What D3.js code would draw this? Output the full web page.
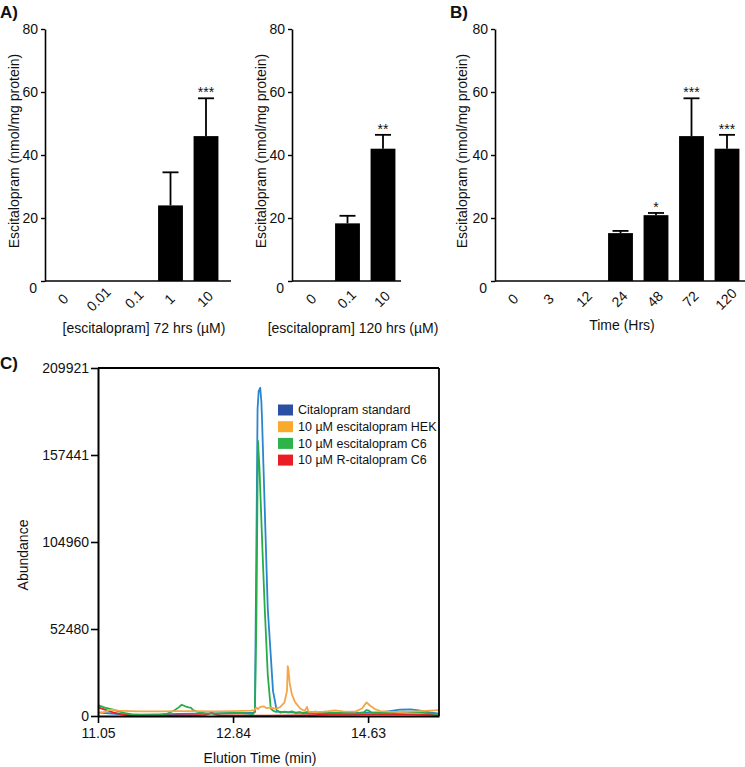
<!DOCTYPE html>
<html><head><meta charset="utf-8">
<script src="https://cdn.jsdelivr.net/npm/d3@7"></script>
<style>
body{margin:0;background:#fff;}
svg text{font-family:"Liberation Sans",Arial,Helvetica,sans-serif;fill:#111;}
</style></head>
<body><svg id="chart" width="745" height="767"></svg>
<script>
// ---------- Data ----------
const concA72 = ["0","0.01","0.1","1","10"];
const meanA72 = [0,0,0,24,46];
const errA72  = [0,0,0,10.5,12];
const sigA72  = ["","","","","***"];

const concA120 = ["0","0.1","10"];
const meanA120 = [0,18.3,42];
const errA120  = [0,2.4,4.4];
const sigA120  = ["","","**"];

const timeB = ["0","3","12","24","48","72","120"];
const meanB = [0,0,0,15.2,20.9,46,42];
const errB  = [0,0,0,0.7,0.7,12,4.4];
const sigB  = ["","","","","*","***","***"];

const barTicks = [0,20,40,60,80];

const chromTicksY = [0,52480,104960,157441,209921];
const chromTicksX = [11.05,12.84,14.63];

const seriesNames = ["Citalopram standard","10 µM escitalopram HEK","10 µM escitalopram C6","10 µM R-citalopram C6"];

const citalopramStd = [[11.05,2200],[11.14,1800],[11.32,1200],[11.47,800],[11.61,800],[11.87,1000],[12.11,1200],[12.34,1400],[12.60,1600],[12.84,1800],[13.07,1800],[13.10,1800],[13.13,2500],[13.145,80000],[13.165,185000],[13.18,196000],[13.20,198000],[13.215,190000],[13.225,178000],[13.30,65000],[13.37,15000],[13.42,3000],[13.46,2400],[13.60,2200],[13.86,1800],[14.13,1800],[14.39,1800],[14.63,2000],[14.80,2200],[14.92,3000],[15.05,3800],[15.19,4000],[15.30,3400],[15.45,2200],[15.57,1400]];

const escHEK = [[11.05,1500],[11.14,2500],[11.22,3800],[11.32,3200],[11.47,3000],[11.61,2800],[11.87,2800],[12.11,3000],[12.34,3000],[12.60,2800],[12.84,3000],[13.07,3200],[13.12,3500],[13.15,5000],[13.17,4200],[13.20,5500],[13.25,5800],[13.28,4800],[13.33,5000],[13.40,4400],[13.46,5200],[13.52,8000],[13.555,15000],[13.565,30000],[13.575,28000],[13.59,20000],[13.62,13000],[13.66,8500],[13.73,4500],[13.79,3000],[13.82,5500],[13.84,2500],[13.93,2400],[14.06,2600],[14.19,3400],[14.30,2800],[14.46,2600],[14.55,4500],[14.59,7000],[14.61,8200],[14.65,6500],[14.72,4200],[14.79,3000],[14.92,2600],[15.05,2400],[15.19,2600],[15.32,3000],[15.45,3300],[15.57,3600]];

const escC6 = [[11.05,6600],[11.14,5000],[11.25,3800],[11.32,2800],[11.41,1800],[11.50,1000],[11.61,600],[11.74,500],[11.87,700],[11.97,1500],[12.05,3000],[12.12,5200],[12.16,6800],[12.19,6200],[12.22,5600],[12.25,5200],[12.28,5000],[12.31,3600],[12.36,2600],[12.47,1600],[12.60,1400],[12.73,1600],[12.84,1800],[12.95,1800],[13.05,1400],[13.10,1200],[13.13,2500],[13.15,60000],[13.17,166000],[13.19,150000],[13.23,100000],[13.26,65000],[13.30,25000],[13.34,4500],[13.37,3200],[13.41,2400],[13.44,3000],[13.47,2000],[13.52,2600],[13.57,2200],[13.62,2800],[13.67,1800],[13.72,2400],[13.78,1600],[13.83,2600],[13.88,2000],[13.93,2700],[13.99,2200],[14.06,2600],[14.13,2000],[14.20,2000],[14.30,1800],[14.40,1600],[14.50,1700],[14.57,2200],[14.61,3600],[14.64,3200],[14.68,2000],[14.79,2000],[14.92,1800],[15.00,2400],[15.10,2600],[15.20,2200],[15.32,2000],[15.45,1600],[15.57,1000]];

const rCitC6 = [[11.05,5200],[11.14,3800],[11.25,2200],[11.36,1000],[11.47,400],[11.61,200],[11.87,200],[12.11,300],[12.34,500],[12.47,700],[12.53,1500],[12.56,2000],[12.60,1000],[12.67,400],[12.84,300],[13.07,300],[13.30,200],[13.60,300],[13.86,500],[14.13,800],[14.39,900],[14.63,1000],[14.92,1200],[15.19,1000],[15.45,700],[15.57,500]];

// ---------- Drawing ----------
const svg = d3.select("#chart");
const FS = 14;

function barPanel(cats, means, errs, sigs, opts){
  const g = svg.append("g");
  const y = d3.scaleLinear().domain([0,80]).range([281,29]);
  const x = d3.scaleBand().domain(cats).range(opts.band).paddingInner(0.3).paddingOuter(0.157);
  // y axis
  const ya = g.append("g").attr("transform",`translate(${opts.axisX},0)`)
    .call(d3.axisLeft(y).tickValues(barTicks).tickSize(4).tickSizeOuter(0).tickPadding(3));
  ya.select(".domain").attr("stroke","#000").attr("stroke-width",1.6);
  ya.selectAll(".tick line").attr("stroke","#000").attr("stroke-width",1.4);
  ya.selectAll(".tick text").attr("font-size",FS).attr("font-family",null).attr("fill","#111")
    .filter(d=>d===0).attr("dy","0.8em").attr("x",-8);
  // x axis line
  g.append("line").attr("x1",opts.axisX).attr("x2",opts.axisEnd).attr("y1",y(0)).attr("y2",y(0))
    .attr("stroke","#000").attr("stroke-width",1.6);
  // bars
  const data = cats.map((c,i)=>({c, m:means[i], e:errs[i], s:sigs[i]}));
  g.selectAll("rect.bar").data(data.filter(d=>d.m>0)).join("rect")
    .attr("x",d=>x(d.c)).attr("width",x.bandwidth())
    .attr("y",d=>y(d.m)).attr("height",d=>y(0)-y(d.m)).attr("fill","#000");
  // error bars
  const eb = g.selectAll("g.eb").data(data.filter(d=>d.m>0)).join("g");
  eb.append("line").attr("x1",d=>x(d.c)+x.bandwidth()/2).attr("x2",d=>x(d.c)+x.bandwidth()/2)
    .attr("y1",d=>y(d.m)).attr("y2",d=>y(d.m+d.e)).attr("stroke","#000").attr("stroke-width",1.8);
  eb.append("line").attr("x1",d=>x(d.c)+x.bandwidth()/2-8).attr("x2",d=>x(d.c)+x.bandwidth()/2+8)
    .attr("y1",d=>y(d.m+d.e)).attr("y2",d=>y(d.m+d.e)).attr("stroke","#000").attr("stroke-width",1.8);
  // stars
  g.selectAll("text.sig").data(data.filter(d=>d.s)).join("text")
    .attr("x",d=>x(d.c)+x.bandwidth()/2).attr("y",d=>y(d.m+d.e)-1)
    .attr("text-anchor","middle").attr("font-size",FS).text(d=>d.s);
  // category labels
  g.selectAll("text.cat").data(cats).join("text")
    .attr("transform",d=>`translate(${x(d)+x.bandwidth()/2-1},299) rotate(-45)`)
    .attr("text-anchor","middle").attr("dominant-baseline","central").attr("font-size",FS).text(d=>d);
  // titles
  g.append("text").attr("x",opts.titleX).attr("y",opts.titleY).attr("text-anchor","middle")
    .attr("font-size",FS).text(opts.title);
  g.append("text").attr("transform",`translate(${opts.yTitleX},151) rotate(-90)`)
    .attr("text-anchor","middle").attr("font-size",FS).text("Escitalopram (nmol/mg protein)");
}

barPanel(concA72, meanA72, errA72, sigA72,
  {band:[46,224], axisX:45, axisEnd:231, titleX:144, titleY:333, title:"[escitalopram] 72 hrs (µM)", yTitleX:19});
barPanel(concA120, meanA120, errA120, sigA120,
  {band:[294,401], axisX:292, axisEnd:401, titleX:353, titleY:333, title:"[escitalopram] 120 hrs (µM)", yTitleX:266});
barPanel(timeB, meanB, errB, sigB,
  {band:[496,745], axisX:495, axisEnd:745, titleX:622, titleY:330, title:"Time (Hrs)", yTitleX:467});

// panel letters
svg.append("text").attr("x",0).attr("y",18).attr("font-size",17).attr("font-weight","bold").text("A)");
svg.append("text").attr("x",450).attr("y",18).attr("font-size",17).attr("font-weight","bold").text("B)");
svg.append("text").attr("x",0).attr("y",369).attr("font-size",17).attr("font-weight","bold").text("C)");

// ---------- Chromatogram ----------
const cx = d3.scaleLinear().domain([11.05,15.57]).range([98,439]);
const cy = d3.scaleLinear().domain([0,209921]).range([716,368]);
const gc = svg.append("g");
const lineColors = ["#2a86cc","#f5a54a","#27ad47","#e3242b"];
const swatchColors = ["#2b4fa3","#f9aa2a","#2db34a","#ec1c24"];
const allSeries = [citalopramStd, escHEK, escC6, rCitC6];
const drawOrder = [0,3,2,1];
const line = d3.line().x(d=>cx(d[0])).y(d=>cy(d[1]));
drawOrder.forEach(i=>{
  gc.append("path").datum(allSeries[i]).attr("d",line).attr("fill","none")
    .attr("stroke",lineColors[i]).attr("stroke-width",1.8).attr("stroke-linejoin","round");
});
// frame
gc.append("line").attr("x1",439).attr("x2",439).attr("y1",cy(209921)).attr("y2",cy(0)).attr("stroke","#000").attr("stroke-width",1.8);
gc.append("line").attr("x1",98).attr("x2",439).attr("y1",cy(209921)).attr("y2",cy(209921)).attr("stroke","#000").attr("stroke-width",1.8);
const cya = gc.append("g").attr("transform","translate(98,0)")
  .call(d3.axisLeft(cy).tickValues(chromTicksY).tickFormat(d3.format("d")).tickSize(7).tickSizeOuter(0).tickPadding(2));
const cxa = gc.append("g").attr("transform",`translate(0,${cy(0)})`)
  .call(d3.axisBottom(cx).tickValues(chromTicksX).tickFormat(d3.format(".2f")).tickSize(7).tickSizeOuter(0).tickPadding(5));
[cya,cxa].forEach(a=>{
  a.select(".domain").attr("stroke","#000").attr("stroke-width",2);
  a.selectAll(".tick line").attr("stroke","#000").attr("stroke-width",1.6);
  a.selectAll(".tick text").attr("font-size",FS).attr("font-family",null).attr("fill","#111");
});
gc.append("text").attr("transform","translate(28,555) rotate(-90)").attr("text-anchor","middle").attr("font-size",FS).text("Abundance");
gc.append("text").attr("x",260).attr("y",763).attr("text-anchor","middle").attr("font-size",FS).text("Elution Time (min)");
// legend
const lg = gc.append("g");
seriesNames.forEach((n,i)=>{
  const yy = 410 + i*16.7;
  lg.append("rect").attr("x",278).attr("y",yy-5.5).attr("width",15).attr("height",11).attr("fill",swatchColors[i]);
  lg.append("text").attr("x",298).attr("y",yy).attr("dy","0.35em").attr("font-size",12.5).text(n);
});
</script></body></html>
